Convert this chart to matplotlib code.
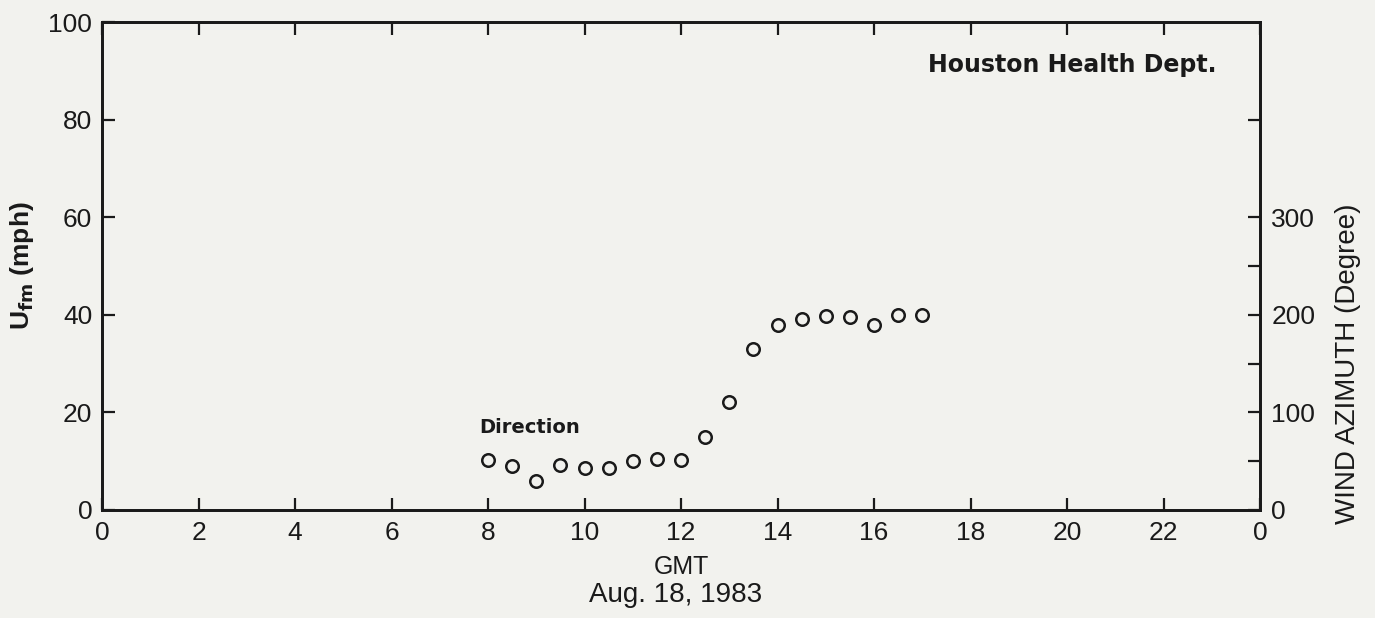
import matplotlib
matplotlib.use("Agg")
import matplotlib.pyplot as plt

# ---- data ----
hours = [8, 8.5, 9, 9.5, 10, 10.5, 11, 11.5, 12, 12.5, 13, 13.5, 14, 14.5, 15, 15.5, 16, 16.5, 17]
azimuth_deg = [51, 45, 30, 46, 43, 43, 50, 52, 51, 75, 111, 165, 190, 196, 199, 198, 190, 200, 200]

x_ticks = list(range(0, 25, 2))
x_tick_labels = [str(t % 24) for t in x_ticks]
left_ticks = [0, 20, 40, 60, 80, 100]
right_ticks = [0, 50, 100, 150, 200, 250, 300, 400]
right_tick_labels = ["0", "", "100", "", "200", "", "300", ""]

bg = "#f2f2ee"
ink = "#1a1a1a"
plt.rcParams['font.family'] = ['Liberation Sans', 'DejaVu Sans']

fig = plt.figure(figsize=(13.75, 6.18), dpi=100, facecolor=bg)
ax = fig.add_axes([0.0742, 0.1748, 0.8422, 0.7896])
ax.set_facecolor(bg)
ax.set_xlim(0, 24)
ax.set_ylim(0, 100)

for s in ax.spines.values():
    s.set_linewidth(2.0)
    s.set_color(ink)

ax.set_xticks(x_ticks)
ax.set_xticklabels(x_tick_labels)
ax.set_yticks(left_ticks)
ax.tick_params(axis='both', direction='in', length=9, width=1.6, colors=ink,
               labelsize=19, labelcolor=ink)
ax.tick_params(axis='x', top=True, pad=8)
ax.tick_params(axis='y', pad=7)

ax2 = ax.twinx()
ax2.set_ylim(0, 500)
ax2.set_yticks(right_ticks)
ax2.set_yticklabels(right_tick_labels)
ax2.tick_params(axis='y', direction='in', length=9, width=1.6, colors=ink,
                labelsize=19, labelcolor=ink, pad=8)
for s in ax2.spines.values():
    s.set_linewidth(2.0)
    s.set_color(ink)

ax2.plot(hours, azimuth_deg, linestyle='none', marker='o', markersize=9,
         markerfacecolor='none', markeredgecolor=ink, markeredgewidth=1.8,
         clip_on=False)

ax.text(8.86, 16.8, "Direction", fontsize=14, fontweight='bold', color=ink,
        ha='center', va='center', family=['DejaVu Sans'])
ax.text(23.1, 91.2, "Houston Health Dept.", fontsize=17, fontweight='bold', color=ink,
        ha='right', va='center', family=['DejaVu Sans'])

fig.text(681 / 1375, 1 - 567 / 618, "GMT", fontsize=18, color=ink, ha='center', va='center')
fig.text(676 / 1375, 1 - 595 / 618, "Aug. 18, 1983", fontsize=20, color=ink, ha='center', va='center')

fig.text(22 / 1375, 1 - 266 / 618, r"U$_{\mathbf{fm}}$ (mph)", fontsize=19, fontweight='bold',
         color=ink, rotation=90, ha='center', va='center')
fig.text(1348 / 1375, 1 - 364 / 618, "WIND AZIMUTH (Degree)", fontsize=20,
         color=ink, rotation=90, ha='center', va='center')

fig.savefig("out.png", dpi=100, facecolor=bg)
